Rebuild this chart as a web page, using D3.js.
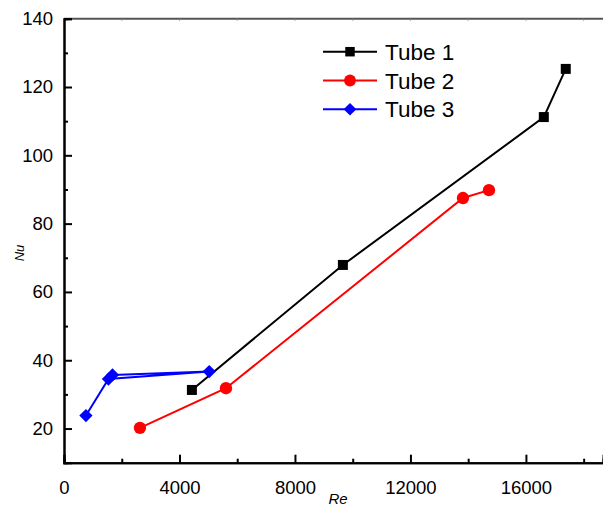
<!DOCTYPE html>
<html>
<head>
<meta charset="utf-8">
<script src="https://cdn.jsdelivr.net/npm/d3@7"></script>
<style>
	html, body { margin: 0; padding: 0; background: #fff; }
	svg { display: block; font-family: "Liberation Sans", Arial, sans-serif; }
</style>
</head>
<body>
<svg id="chart" width="603" height="506"></svg>
<script>
// data
const tube1Re = [4430, 9660, 16620, 17380];
const tube1Nu = [31.3, 67.9, 111.2, 125.3];
const tube2Re = [2630, 5610, 13820, 14720];
const tube2Nu = [20.2, 31.8, 87.5, 89.8];
const tube3Re = [760, 1540, 5030, 1680];
const tube3Nu = [23.8, 34.5, 36.7, 35.7];

const seriesNames = ["Tube 1", "Tube 2", "Tube 3"];
const seriesColors = ["#000000", "#ff0000", "#0000ff"];
// diamond = square turned 45 degrees
const seriesShapes = [d3.symbolSquare, d3.symbolCircle, d3.symbolSquare];
const seriesRotate = [0, 0, 45];

const xTicks = [0, 4000, 8000, 12000, 16000];
const yTicks = [20, 40, 60, 80, 100, 120, 140];

const width = 603, height = 506;
const svg = d3.select("#chart");

const x = d3.scaleLinear().domain([0, 18670]).range([64, 603]);
const y = d3.scaleLinear().domain([10, 140]).range([462.7, 18.7]);

const series = [
	{ name: seriesNames[0], re: tube1Re, nu: tube1Nu },
	{ name: seriesNames[1], re: tube2Re, nu: tube2Nu },
	{ name: seriesNames[2], re: tube3Re, nu: tube3Nu }
];

// top frame line (grey) with tiny ticks
svg.append("line")
	.attr("x1", 64).attr("x2", width)
	.attr("y1", y(140)).attr("y2", y(140))
	.attr("stroke", "#555").attr("stroke-width", 2);

svg.append("g")
	.selectAll("line")
	.data(d3.range(2000, 18670, 2000))
	.join("line")
	.attr("x1", d => x(d)).attr("x2", d => x(d))
	.attr("y1", y(140)).attr("y2", y(140) + 2)
	.attr("stroke", "#888").attr("stroke-width", 1);

// x axis
svg.append("g")
	.attr("transform", `translate(0,${y(10)})`)
	.call(d3.axisBottom(x).tickValues(xTicks).tickFormat(d3.format("d")).tickSize(-8).tickPadding(18));

svg.append("g")
	.attr("transform", `translate(0,${y(10)})`)
	.call(d3.axisBottom(x).tickValues(d3.range(2000, 18670, 4000)).tickFormat("").tickSize(-4));

// y axis
svg.append("g")
	.attr("transform", `translate(${x(0)},0)`)
	.call(d3.axisLeft(y).tickValues(yTicks).tickSize(-8).tickPadding(11));

svg.append("g")
	.attr("transform", `translate(${x(0)},0)`)
	.call(d3.axisLeft(y).tickValues(d3.range(30, 140, 20)).tickFormat("").tickSize(-4));

svg.selectAll(".domain").attr("stroke", "#000").attr("stroke-width", 2);
svg.selectAll(".tick line").attr("stroke", "#000").attr("stroke-width", 2);
svg.selectAll(".tick text")
	.attr("fill", "#000")
	.style("font-size", "18.5px")
	.style("font-family", "'Liberation Sans', Arial, sans-serif");

// axis titles
svg.append("text")
	.attr("x", 338).attr("y", 504)
	.attr("text-anchor", "middle")
	.style("font-size", "15px").style("font-style", "italic")
	.text("Re");

svg.append("text")
	.attr("transform", `translate(24,${253}) rotate(-90)`)
	.attr("text-anchor", "middle")
	.style("font-size", "13px").style("font-style", "italic")
	.text("Nu");

// series
const line = d3.line().x(d => x(d[0])).y(d => y(d[1]));
const markerSize = [100, 120, 88];

series.forEach((s, i) => {
	const pts = s.re.map((r, k) => [r, s.nu[k]]);
	svg.append("path")
		.datum(pts)
		.attr("d", line)
		.attr("fill", "none")
		.attr("stroke", seriesColors[i])
		.attr("stroke-width", 2);

	svg.append("g")
		.selectAll("path")
		.data(pts)
		.join("path")
		.attr("transform", d => `translate(${x(d[0])},${y(d[1])}) rotate(${seriesRotate[i]})`)
		.attr("d", d3.symbol().type(seriesShapes[i]).size(markerSize[i]))
		.attr("fill", seriesColors[i]);
});

// legend
const legend = svg.append("g");
seriesNames.forEach((name, i) => {
	const ly = 51.7 + i * 28.8;
	legend.append("line")
		.attr("x1", 323).attr("x2", 377)
		.attr("y1", ly).attr("y2", ly)
		.attr("stroke", seriesColors[i]).attr("stroke-width", 2);
	legend.append("path")
		.attr("transform", `translate(350,${ly}) rotate(${seriesRotate[i]})`)
		.attr("d", d3.symbol().type(seriesShapes[i]).size([90, 110, 80][i]))
		.attr("fill", seriesColors[i]);
	legend.append("text")
		.attr("x", 385).attr("y", ly)
		.attr("dy", "0.36em")
		.style("font-size", "22.5px")
		.text(name);
});
</script>
</body>
</html>
